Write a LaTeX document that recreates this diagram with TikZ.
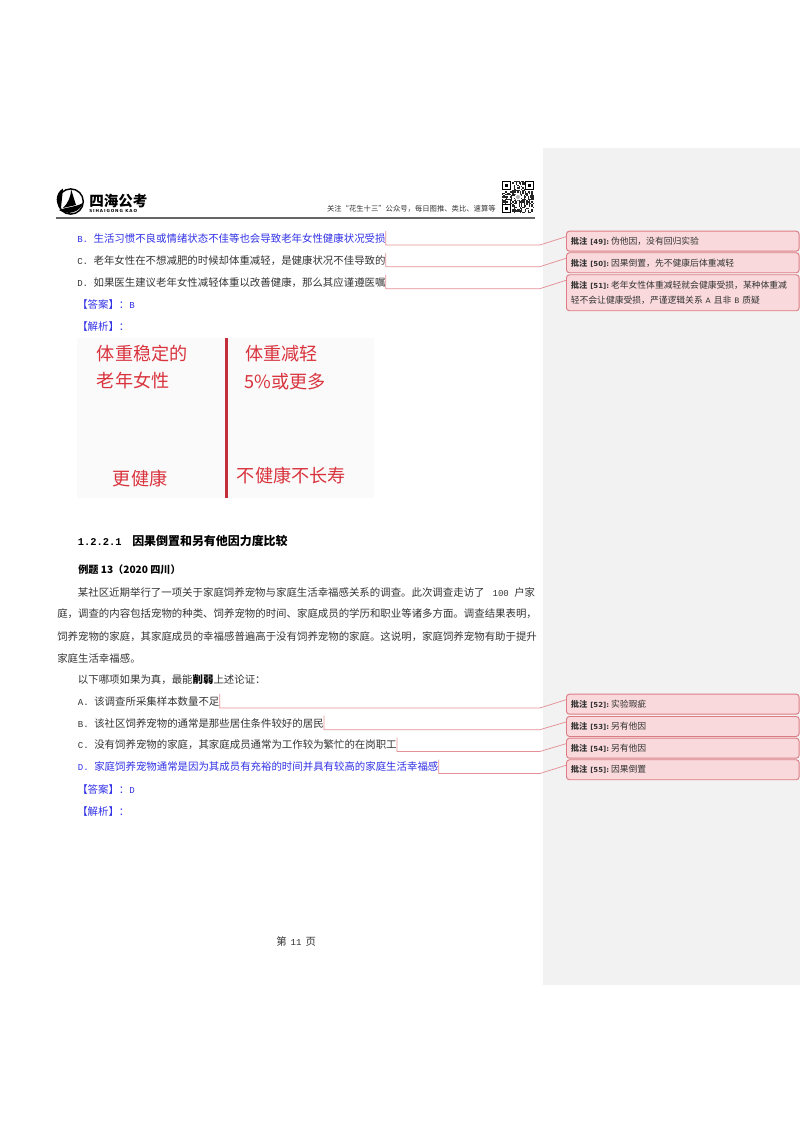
\documentclass[tikz,border=0pt]{standalone}
\usepackage{fontspec}
\setmainfont{Noto Sans CJK SC}
\newfontfamily\latn[Scale=0.87]{Liberation Mono}
\newfontfamily\cmtlatn{DejaVu Sans}
\newfontfamily\logolatn[LetterSpace=22]{DejaVu Sans}
\newcommand{\mn}[1]{{\latn #1}}
\newcommand{\cmthead}[1]{{\bfseries\fontsize{6.2}{8}\selectfont 批注 }{\cmtlatn\bfseries\fontsize{5.2}{8}\selectfont [#1]:\hspace{1.5pt}}}
\definecolor{answerblue}{HTML}{3030E6}
\definecolor{bodygray}{HTML}{333333}
\definecolor{marginbg}{HTML}{F2F2F2}
\definecolor{cmtfill}{HTML}{F9D9DB}
\definecolor{cmtline}{HTML}{DC7C84}
\definecolor{linkline}{HTML}{E58F97}
\definecolor{picred}{HTML}{D9343E}
\tikzset{
    qline/.style={anchor=west,inner sep=0pt,text height=8.3pt,text depth=1.7pt,text=bodygray,
        font=\fontsize{7.82}{9}\selectfont},
    qblue/.style={qline,text=answerblue},
    cmtbox/.style={anchor=north west,draw=cmtline,fill=cmtfill,line width=0.7pt,rounded corners=2.2pt,
        minimum width=174.5pt,text width=168pt,inner xsep=3.25pt,inner ysep=0pt,align=left,text=bodygray,
        font=\fontsize{6.6}{11.8}\selectfont},
    link/.style={draw=linkline,line width=0.55pt},
    pictext/.style={anchor=west,inner sep=0pt,text=picred,font=\fontsize{13.6}{15}\selectfont},
}
\begin{document}
\begin{tikzpicture}[x=0.75pt,y=-0.75pt]
    \useasboundingbox (0,0) rectangle (800,1132);
    \fill[marginbg] (543,148) rectangle (800,985);

    % header
    \draw[black,line width=1.1pt] (70.7,201.5) circle (12.6);
    \fill[black] (63,188.5) arc (240:130:12.6) -- (61,208) -- cycle;
    \fill[black] (71,189) -- (76,205) -- (63,208) .. controls (68,203) and (71,197) .. (71,189) -- cycle;
    \fill[black] (59,210) .. controls (67,207) and (76,207) .. (83,203) .. controls (80,212) and (68,216) .. (59,210) -- cycle;
    \node[anchor=west,inner sep=0pt,font=\bfseries\fontsize{10.9}{12}\selectfont] (brand) at (89,201) {四海公考};
    \node[anchor=west,inner sep=0pt,font=\logolatn\bfseries\fontsize{3.1}{4}\selectfont] (brandsub) at (89,211) {SIHAIGONG KAO};
    \node[anchor=east,inner sep=0pt,text=bodygray,font=\fontsize{5.5}{7}\selectfont] (slogan) at (496,209) {关注“花生十三”公众号，每日图推、类比、速算等};
    \draw[black!60,line width=1.4pt] (56,217.7) -- (535,217.7);

    % qr code
    \pgfmathsetseed{49}
    \foreach \i in {0,...,24} {
        \foreach \j in {0,...,24} {
            \pgfmathrandominteger{\bit}{0}{1}
            \ifnum\bit=1
                \fill[black!85] (502+\i*1.28,181+\j*1.28) rectangle ++(1.28,1.28);
            \fi
        }
    }
    \foreach \fx/\fy in {502/181,525/181,502/204} {
        \fill[white] (\fx-0.5,\fy-0.5) rectangle ++(10,10);
        \fill[black] (\fx,\fy) rectangle ++(9,9);
        \fill[white] (\fx+1.3,\fy+1.3) rectangle ++(6.4,6.4);
        \fill[black] (\fx+2.6,\fy+2.6) rectangle ++(3.8,3.8);
    }
    \fill[white] (518,197) circle (3.5);
    \fill[gray!60] (518,197) circle (2);

    % first options
    \node[qblue] (optB) at (77,238) {\mn{B.\ }生活习惯不良或情绪状态不佳等也会导致老年女性健康状况受损};
    \node[qline] (optC) at (77,259.7) {\mn{C.\ }老年女性在不想减肥的时候却体重减轻，是健康状况不佳导致的};
    \node[qline] (optD) at (77,281.7) {\mn{D.\ }如果医生建议老年女性减轻体重以改善健康，那么其应谨遵医嘱};
    \node[qblue] (ansA) at (77,304) {【答案】：\mn{B}};
    \node[qblue] (expA) at (77,325.7) {【解析】：};

    % comments on the margin
    \coordinate (kink) at (540,0);
    \node[cmtbox,minimum height=15pt] (c49) at (566,230.7) {\cmthead{49}伪他因，没有回归实验};
    \node[cmtbox,minimum height=15pt] (c50) at (566,252.3) {\cmthead{50}因果倒置，先不健康后体重减轻};
    \node[cmtbox,minimum height=27pt] (c51) at (566,274.3) {\cmthead{51}老年女性体重减轻就会健康受损，某种体重减\\轻不会让健康受损，严谨逻辑关系 {\cmtlatn\fontsize{5.6}{8}\selectfont A} 且非 {\cmtlatn\fontsize{5.6}{8}\selectfont B} 质疑};
    \draw[link] (optB.north east) -- (optB.south east) -- (kink |- optB.south east) -- ([yshift=-4.5pt]c49.north west);
    \draw[link] (optC.north east) -- (optC.south east) -- (kink |- optC.south east) -- ([yshift=-4.5pt]c50.north west);
    \draw[link] (optD.north east) -- (optD.south east) -- (kink |- optD.south east) -- ([yshift=-4.5pt]c51.north west);

    % chart picture
    \fill[black!2] (77,338) rectangle (373.5,497.7);
    \draw[picred!90!black,line width=2.1pt] (226.7,338) -- (226.7,497.7);
    \node[pictext] (stable) at (96.7,354) {体重稳定的};
    \node[pictext] (women) at (96.7,381) {老年女性};
    \node[pictext] (healthy) at (112.7,479) {更健康};
    \node[pictext] (loss) at (245,354) {体重减轻};
    \node[pictext] (percent) at (244.5,381.5) {5\%或更多};
    \node[pictext] (unhealthy) at (236.7,475.7) {不健康不长寿};

    % section
    \node[qline,text=black,font=\bfseries\fontsize{8.96}{11}\selectfont] (sec) at (77.7,540.7) {\mn{1.2.2.1}\hspace{8pt}因果倒置和另有他因力度比较};
    \node[qline,text=black,font=\bfseries\fontsize{7.6}{9}\selectfont] (exa) at (78,569.3) {例题 13（2020 四川）};
    \node[qline] (par1) at (77.7,591.7) {某社区近期举行了一项关于家庭饲养宠物与家庭生活幸福感关系的调查。此次调查走访了\hspace{6pt}\mn{100}\hspace{4pt}户家};
    \node[qline] (par2) at (57,613.3) {庭，调查的内容包括宠物的种类、饲养宠物的时间、家庭成员的学历和职业等诸多方面。调查结果表明，};
    \node[qline] (par3) at (57,636) {饲养宠物的家庭，其家庭成员的幸福感普遍高于没有饲养宠物的家庭。这说明，家庭饲养宠物有助于提升};
    \node[qline] (par4) at (57,657.7) {家庭生活幸福感。};
    \node[qline] (par5) at (77.7,679.3) {以下哪项如果为真，最能{\bfseries\color{black}削弱}上述论证：};

    % second options
    \node[qline] (q2A) at (77.7,701) {\mn{A.\ }该调查所采集样本数量不足};
    \node[qline] (q2B) at (77.7,722.7) {\mn{B.\ }该社区饲养宠物的通常是那些居住条件较好的居民};
    \node[qline] (q2C) at (77.7,744.5) {\mn{C.\ }没有饲养宠物的家庭，其家庭成员通常为工作较为繁忙的在岗职工};
    \node[qblue] (q2D) at (77.7,766.5) {\mn{D.\ }家庭饲养宠物通常是因为其成员有充裕的时间并具有较高的家庭生活幸福感};
    \node[qblue] (ansB) at (77,789) {【答案】：\mn{D}};
    \node[qblue] (expB) at (77,810.7) {【解析】：};

    \node[cmtbox,minimum height=15pt] (c52) at (566,693.7) {\cmthead{52}实验瑕疵};
    \node[cmtbox,minimum height=15pt] (c53) at (566,716) {\cmthead{53}另有他因};
    \node[cmtbox,minimum height=15pt] (c54) at (566,737.7) {\cmthead{54}另有他因};
    \node[cmtbox,minimum height=15pt] (c55) at (566,759.3) {\cmthead{55}因果倒置};
    \draw[link] (q2A.north east) -- (q2A.south east) -- (kink |- q2A.south east) -- ([yshift=-4.5pt]c52.north west);
    \draw[link] (q2B.north east) -- (q2B.south east) -- (kink |- q2B.south east) -- ([yshift=-4.5pt]c53.north west);
    \draw[link] (q2C.north east) -- (q2C.south east) -- (kink |- q2C.south east) -- ([yshift=-4.5pt]c54.north west);
    \draw[link] (q2D.north east) -- (q2D.south east) -- (kink |- q2D.south east) -- ([yshift=-4.5pt]c55.north west);

    % footer
    \node[qline] (pageno) at (276,941) {第\hspace{3pt}\mn{11}\hspace{3pt}页};
\end{tikzpicture}
\end{document}
